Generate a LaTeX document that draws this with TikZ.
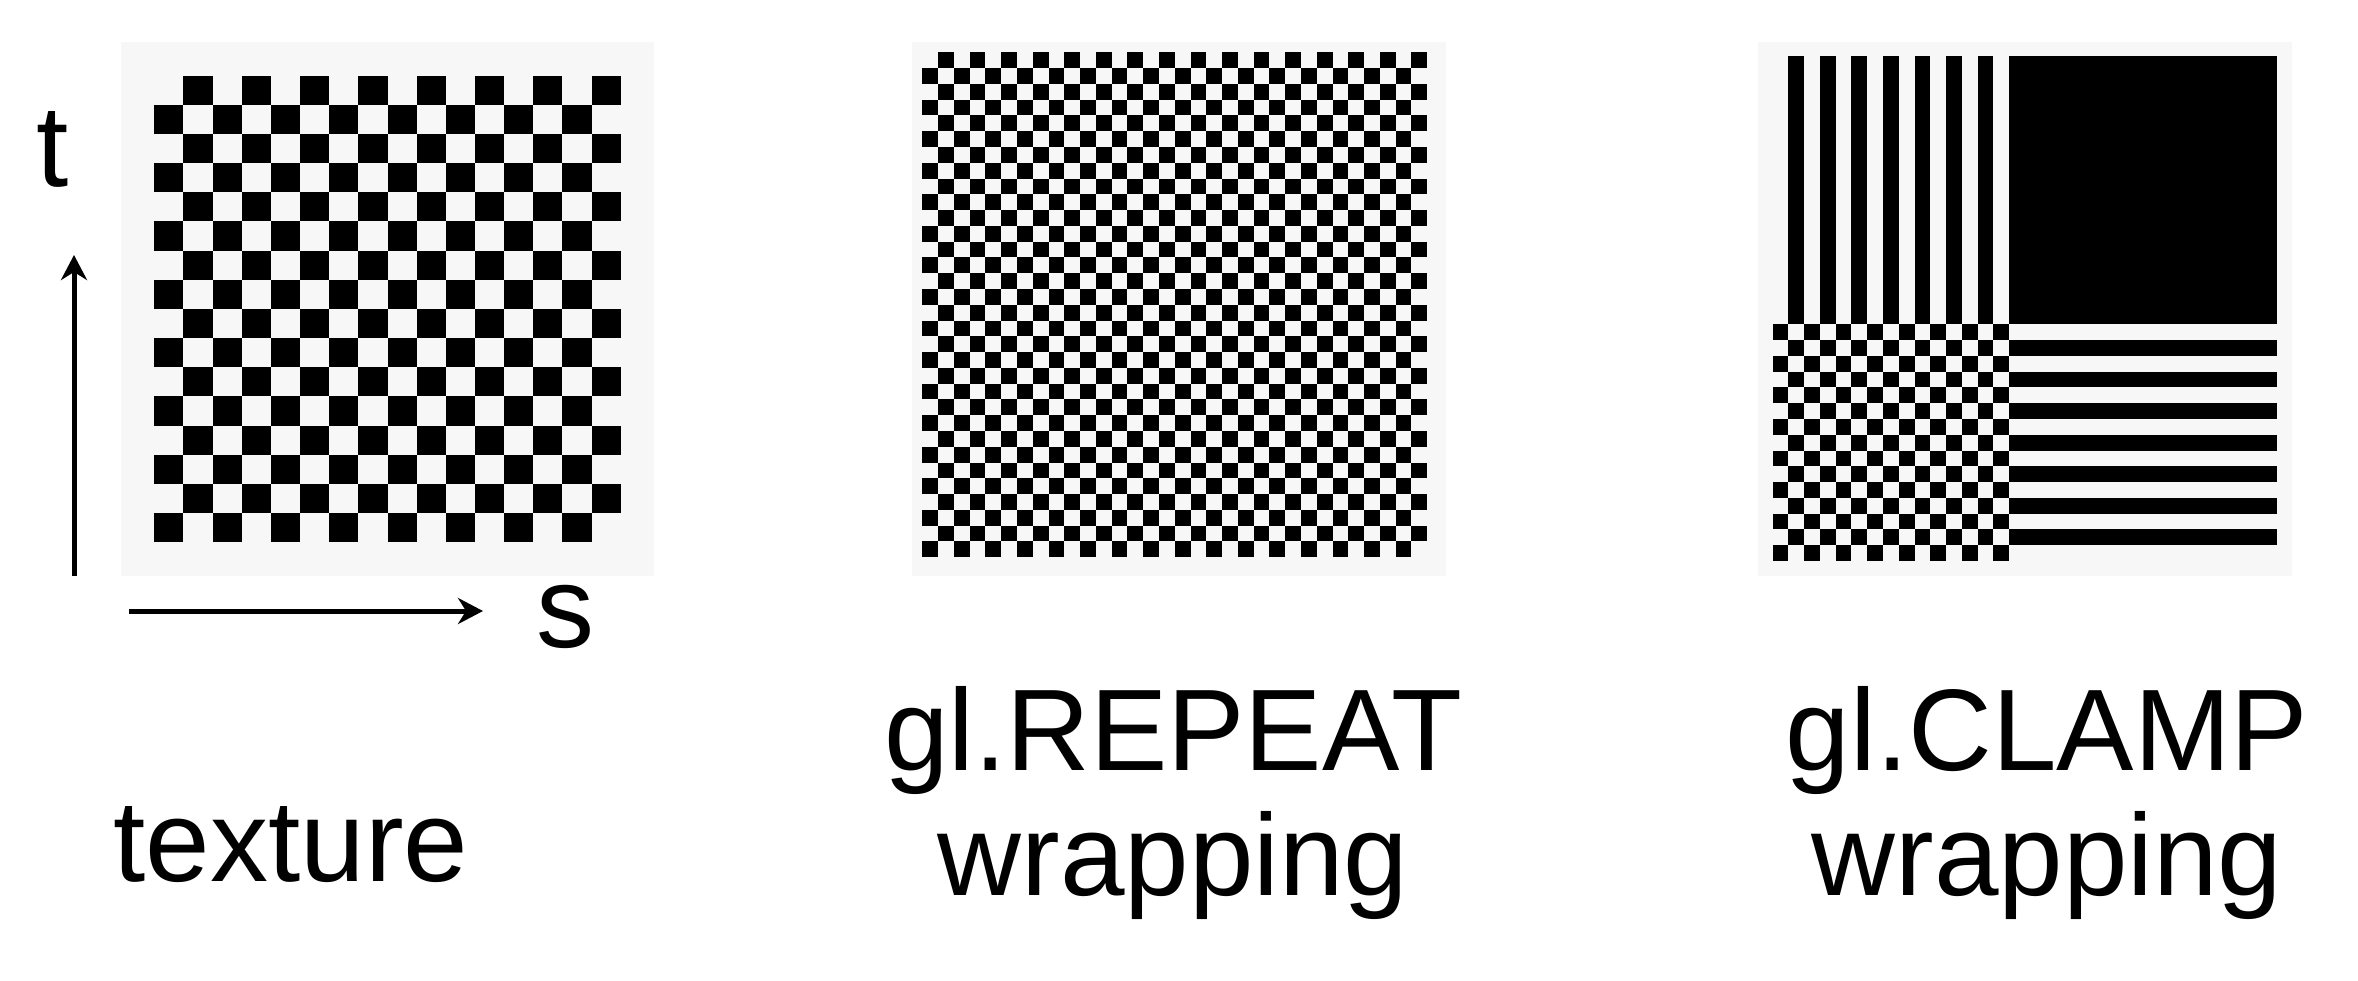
\documentclass[tikz,border=0pt]{standalone}
\usepackage{fontspec}
\setmainfont{Liberation Sans}
\usetikzlibrary{arrows.meta}
\definecolor{panelgray}{HTML}{F7F7F7}
\tikzset{
	axis/.style={line width=5pt,-{Stealth[length=25pt,width=26pt,inset=8pt]}},
	caption/.style={anchor=base,inner sep=0pt,font=\fontsize{116}{125}\selectfont},
	panel/.style={fill=panelgray},
}

\begin{document}
\begin{tikzpicture}[x=1pt,y=-1pt]
		\path[use as bounding box,fill=white] (0,0) rectangle (2358,980);
%		\draw[help lines,step=100] (0,0) grid (2358,980);
		\path (121,42.3) coordinate (tex_nw);
		\path (654,575.7) coordinate (tex_se);
		\path (911.7,42.3) coordinate (rep_nw);
		\path (1446,575.7) coordinate (rep_se);
		\path (1758.3,42.3) coordinate (clamp_nw);
		\path (2292,575.7) coordinate (clamp_se);

		\path (74,576) coordinate (t_from);
		\path (74,255) coordinate (t_to);
		\path (128.5,611) coordinate (s_from);
		\path (483,611) coordinate (s_to);

		\fill[panel] (tex_nw) rectangle (tex_se);
		\fill[panel] (rep_nw) rectangle (rep_se);
		\fill[panel] (clamp_nw) rectangle (clamp_se);

		% texture, 16x16
		\begin{scope}[shift={(154.3,75.7)},x=29.15pt,y=-29.15pt]
			\foreach \j in {0,...,15}
				\foreach \k in {0,...,7}
					\fill ({2*\k+mod(\j+1,2)},\j) rectangle ++(1,1);
		\end{scope}

		% repeat, 32x32
		\begin{scope}[shift={(922.3,52.3)},x=15.78pt,y=-15.78pt]
			\foreach \j in {0,...,31}
				\foreach \k in {0,...,15}
					\fill ({2*\k+mod(\j+1,2)},\j) rectangle ++(1,1);
		\end{scope}

		% clamp
		\begin{scope}[shift={(1772.5,56)},x=15.78pt,y=-15.78pt]
			\fill (15,0) rectangle (32,17);
			\foreach \k in {0,...,6} {
				\fill ({2*\k+1},0) rectangle ++(1,17);
				\fill (15,{18+2*\k}) rectangle ++(17,1);
			}
			\foreach \j in {0,...,14}
				\foreach \k in {0,...,7}
					\fill ({2*\k+mod(\j,2)},{17+\j}) rectangle ++(1,1);
		\end{scope}

		\draw[axis] (t_from) -- (t_to);
		\draw[axis] (s_from) -- (s_to);
		\node[caption] (t_lbl) at (53,186) {t};
		\node[caption] (s_lbl) at (565,647) {s};

		\node[caption] (tex_lbl) at (291,881) {texture};
		\node[caption] (rep_lbl) at (1173,770) {gl.REPEAT};
		\node[caption] (rep_wrap) at (1173,895) {wrapping};
		\node[caption] (clamp_lbl) at (2047,770) {gl.CLAMP};
		\node[caption] (clamp_wrap) at (2047,895) {wrapping};
\end{tikzpicture}
\end{document}
